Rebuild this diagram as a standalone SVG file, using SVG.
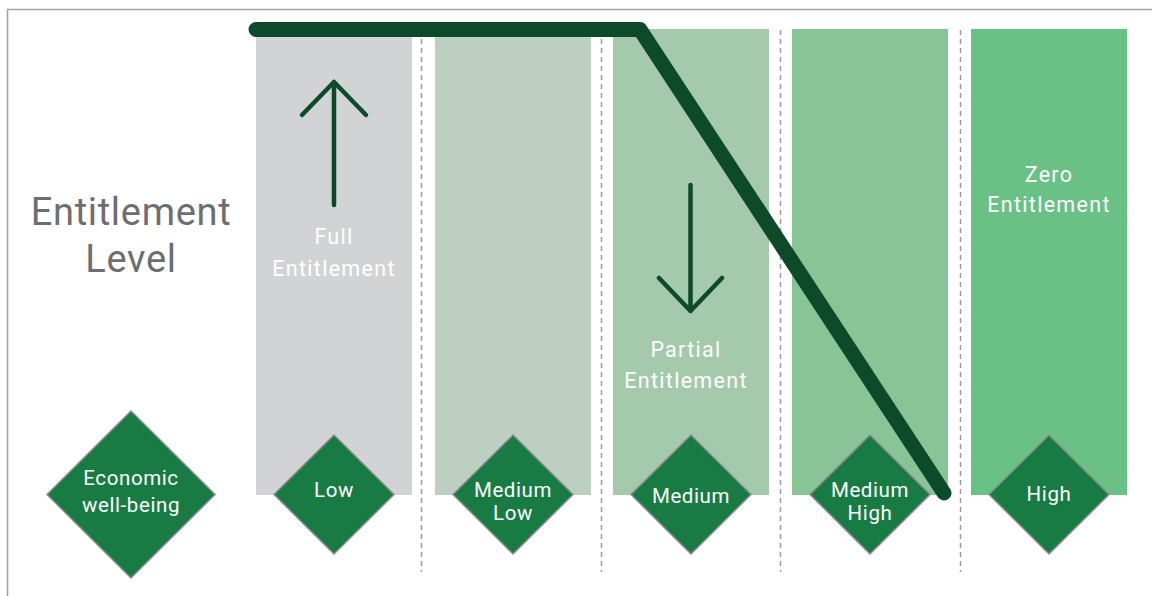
<svg xmlns="http://www.w3.org/2000/svg" width="1152" height="596" viewBox="0 0 1152 596">
<style>
.col{stroke:none}
.sep{stroke:#9a9a9a;stroke-width:1.5;stroke-dasharray:5 4;fill:none}
.dia{fill:#177b43;stroke:#8c8c8c;stroke-width:1.5}
.dt{font-family:Roboto,"Liberation Sans",sans-serif;font-size:20.5px;fill:#ffffff;text-anchor:middle;letter-spacing:0.6px}
.ct{font-family:Roboto,"Liberation Sans",sans-serif;font-size:21.5px;fill:#ffffff;text-anchor:middle;letter-spacing:1.3px}
.big{font-family:Roboto,"Liberation Sans",sans-serif;font-size:38px;fill:#6d6e71;text-anchor:middle;letter-spacing:0.7px}
.arr{fill:none;stroke:#0d4a2a;stroke-width:4.5;stroke-linecap:round;stroke-linejoin:round}
</style>
<rect width="1152" height="596" fill="#ffffff"/>
<path d="M7.5,596 V9.5 H1152" fill="none" stroke="#a3a3a3" stroke-width="1.6"/>
<g id="columns">
<rect class="col" x="256" y="29" width="156" height="466" fill="#d1d3d4"/>
<rect class="col" x="435" y="29" width="156" height="466" fill="#bccfc0"/>
<rect class="col" x="613" y="29" width="156" height="466" fill="#a4c9ab"/>
<rect class="col" x="792" y="29" width="156" height="466" fill="#88c496"/>
<rect class="col" x="971" y="29" width="156" height="466" fill="#69c186"/>
</g>
<g id="separators">
<line class="sep" x1="421.5" y1="30" x2="421.5" y2="572"/>
<line class="sep" x1="601.5" y1="30" x2="601.5" y2="572"/>
<line class="sep" x1="780.5" y1="30" x2="780.5" y2="572"/>
<line class="sep" x1="960.5" y1="30" x2="960.5" y2="572"/>
</g>
<g id="label-level">
<text class="big" x="131" y="225">Entitlement</text>
<text class="big" x="131" y="272">Level</text>
</g>
<g id="label-full">
<text class="ct" x="334" y="244">Full</text>
<text class="ct" x="334" y="276">Entitlement</text>
</g>
<g id="label-partial">
<text class="ct" x="686" y="357">Partial</text>
<text class="ct" x="686" y="388">Entitlement</text>
</g>
<g id="label-zero">
<text class="ct" x="1049" y="182">Zero</text>
<text class="ct" x="1049" y="212">Entitlement</text>
</g>
<g id="arrow-up">
<path class="arr" d="M334,205 V82 M302,115 L334,82 L366,115"/>
</g>
<g id="arrow-down">
<path class="arr" d="M690.5,185 V311 M659,278 L690.5,311 L722,278"/>
</g>
<g id="connectors">
<path d="M256,29.5 H640 L944,493" fill="none" stroke="#0d4a2a" stroke-width="15" stroke-linecap="round" stroke-linejoin="round"/>
</g>
<g id="node-economic">
<polygon class="dia" points="131,411 215,494.5 131,578 47,494.5"/>
<text class="dt" x="131" y="485">Economic</text>
<text class="dt" x="131" y="512">well-being</text>
</g>
<g id="node-low">
<polygon class="dia" points="334,435 394,494.5 334,554 274,494.5"/>
<text class="dt" x="334" y="497">Low</text>
</g>
<g id="node-medium-low">
<polygon class="dia" points="513,435 573,494.5 513,554 453,494.5"/>
<text class="dt" x="513" y="497">Medium</text>
<text class="dt" x="513" y="519.5">Low</text>
</g>
<g id="node-medium">
<polygon class="dia" points="691,435 751,494.5 691,554 631,494.5"/>
<text class="dt" x="691" y="503">Medium</text>
</g>
<g id="node-medium-high">
<polygon class="dia" points="870,435 930,494.5 870,554 810,494.5"/>
<text class="dt" x="870" y="497">Medium</text>
<text class="dt" x="870" y="519.5">High</text>
</g>
<g id="node-high">
<polygon class="dia" points="1049,435 1109,494.5 1049,554 989,494.5"/>
<text class="dt" x="1049" y="501">High</text>
</g>
</svg>
